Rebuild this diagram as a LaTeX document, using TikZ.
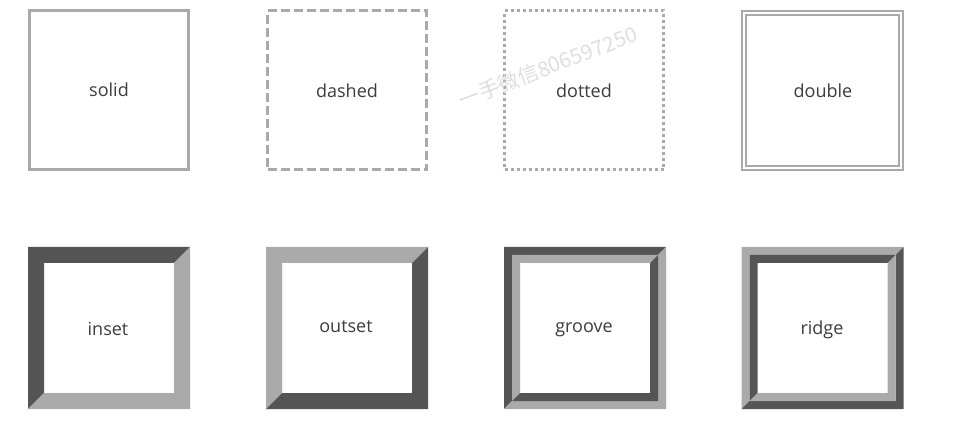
\documentclass[tikz,border=0pt]{standalone}
\usepackage{fontspec}
\setmainfont{Open Sans}
\newfontfamily\cjk{Noto Sans CJK SC}
\definecolor{lightb}{HTML}{AAAAAA}
\definecolor{darkb}{HTML}{555555}
\definecolor{txt}{HTML}{3C3C3C}
\definecolor{wm}{HTML}{DEDEDE}
% \bevring{x0}{y0}{size}{w}{top-left colour}{bottom-right colour}
\newcommand{\bevring}[6]{%
  \fill[#5] (#1,#2) -- ++(#3,0) -- ++(-#4,#4) -- ++({-(#3)+2*(#4)},0) -- ++(0,{#3-2*(#4)}) -- ++(-#4,#4) -- cycle;
  \fill[#6] ({#1+#3},{#2+#3}) -- ++(-#3,0) -- ++(#4,-#4) -- ++({#3-2*(#4)},0) -- ++(0,{-(#3)+2*(#4)}) -- ++(#4,-#4) -- cycle;
}
\begin{document}
\begin{tikzpicture}[x=1pt,y=-1pt,
  lbl/.style={text=txt,font=\fontsize{18}{20}\selectfont,inner sep=0pt,anchor=base},
  boxa/.style={draw=lightb,line width=3pt,minimum size=159pt,inner sep=0pt},
]
\useasboundingbox (0,0) rectangle (970,422);
% top row
\node[boxa] (solid) at (109,90.5) {};
\node[boxa,dash pattern=on 9pt off 4pt] (dashed) at (347,90.5) {};
\node[boxa,dash pattern=on 3pt off 3pt] (dotted) at (584,90.5) {};
\draw[lightb,line width=2pt] (742,11) rectangle (903,170);
\draw[lightb,line width=2pt] (746,15) rectangle (899,166);
\node[lbl] (solidt) at (109,97) {solid};
\node[lbl] (dashedt) at (347,97.5) {dashed};
\node[lbl] (dottedt) at (584,97.5) {dotted};
\node[lbl] (doublet) at (823,97.5) {double};
% watermark
\node[text=wm,rotate=21,font=\cjk\fontsize{21}{24}\selectfont,inner sep=0pt] (wmark) at (548,67) {一手微信806597250};
% bottom row
\bevring{28}{247}{162}{16}{darkb}{lightb}
\bevring{266}{247}{162}{16}{lightb}{darkb}
\bevring{504}{247}{162}{8}{darkb}{lightb}
\bevring{512}{255}{146}{8}{lightb}{darkb}
\bevring{741.5}{247}{162}{8}{lightb}{darkb}
\bevring{749.5}{255}{146}{8}{darkb}{lightb}
\node[lbl] (inset) at (108,336) {inset};
\node[lbl] (outset) at (346,333) {outset};
\node[lbl] (groove) at (584,332) {groove};
\node[lbl] (ridge) at (822,334.5) {ridge};
\end{tikzpicture}
\end{document}
